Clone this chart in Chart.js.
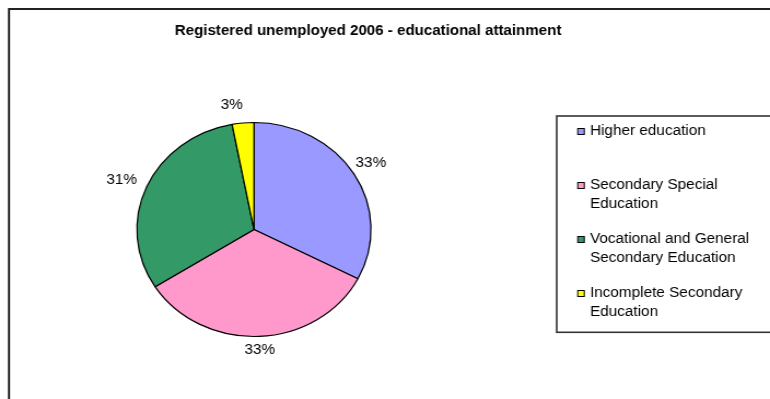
<!DOCTYPE html>
<html lang="en">
<head>
<meta charset="UTF-8">
<title>Registered unemployed 2006 - educational attainment</title>
<script src="https://cdn.jsdelivr.net/npm/chart.js"></script>
<style>
  html, body { margin: 0; padding: 0; background: #ffffff; overflow: hidden; }
  /* the sheet is drawn 704 wide and stretched to 770, like the exported chart */
  canvas { display: block; width: 770px !important; height: 399px !important; }
</style>
</head>
<body>
<canvas id="eduChart" width="704" height="399"></canvas>
<script>
  const chartTitle = 'Registered unemployed 2006 - educational attainment';
  const categories = [
    'Higher education',
    'Secondary Special Education',
    'Vocational and General Secondary Education',
    'Incomplete Secondary Education'
  ];
  const shares = [32.6, 33.4, 31.0, 3.0];
  const sliceColours = ['#9999FF', '#FF99CC', '#339966', '#FFFF00'];
  // small nudges for the percentage labels, [dx, dy]
  const labelNudge = [[-3, 0], [0, 0], [-3, 2], [-9, -4]];

  const FONT = "'Liberation Sans', Arial, sans-serif";

  function wrapWords(ctx, text, maxWidth) {
    const words = text.split(' ');
    const lines = [];
    let line = '';
    words.forEach(w => {
      const test = line ? line + ' ' + w : w;
      if (line && ctx.measureText(test).width > maxWidth) {
        lines.push(line);
        line = w;
      } else {
        line = test;
      }
    });
    if (line) lines.push(line);
    return lines;
  }

  const sheetDecor = {
    id: 'sheetDecor',
    beforeDraw(chart) {
      const ctx = chart.ctx;
      ctx.save();
      // outer chart frame (runs off the right and bottom edge)
      ctx.strokeStyle = '#1a1a1a';
      ctx.lineWidth = 1.9;
      ctx.strokeRect(8.2, 9, 800, 500);
      ctx.restore();
    },
    afterDraw(chart) {
      const ctx = chart.ctx;
      ctx.save();

      // title
      ctx.fillStyle = '#000';
      ctx.font = `bold 13.8px ${FONT}`;
      ctx.textAlign = 'center';
      ctx.textBaseline = 'middle';
      ctx.fillText(chartTitle, 336.5, 31);

      // percentage labels outside the slices
      const total = shares.reduce((a, b) => a + b, 0);
      const arcs = chart.getDatasetMeta(0).data;
      ctx.font = `14px ${FONT}`;
      arcs.forEach((arc, i) => {
        const text = Math.round(shares[i] / total * 100) + '%';
        const mid = (arc.startAngle + arc.endAngle) / 2;
        const dx = Math.cos(mid), dy = Math.sin(mid);
        const w = ctx.measureText(text).width, h = 14;
        const reach = Math.abs(dx) * w / 2 + Math.abs(dy) * h / 2 + 6;
        const x = arc.x + dx * (arc.outerRadius + reach) + labelNudge[i][0];
        const y = arc.y + dy * (arc.outerRadius + reach) + labelNudge[i][1];
        ctx.fillText(text, x, y);
      });

      // legend box
      ctx.strokeStyle = '#333';
      ctx.lineWidth = 1.6;
      ctx.strokeRect(509, 116, 260, 216.3);

      ctx.font = `14px ${FONT}`;
      ctx.textAlign = 'left';
      categories.forEach((name, i) => {
        const top = 131.5 + i * 54;
        ctx.fillStyle = sliceColours[i];
        ctx.fillRect(528.2, top - 3, 6, 6);
        ctx.strokeStyle = '#000';
        ctx.lineWidth = 1;
        ctx.strokeRect(528.2, top - 3, 6, 6);
        ctx.fillStyle = '#000';
        wrapWords(ctx, name, 160).forEach((line, j) => {
          ctx.fillText(line, 539.4, top + j * 18.5);
        });
      });
      ctx.restore();
    }
  };

  new Chart(document.getElementById('eduChart'), {
    type: 'pie',
    data: {
      labels: categories,
      datasets: [{
        data: shares,
        backgroundColor: sliceColours,
        borderColor: '#000',
        borderWidth: 1.2,
        hoverOffset: 0,
        radius: 107
      }]
    },
    options: {
      responsive: false,
      animation: false,
      events: [],
      layout: { padding: { left: 125.2, right: 364.8, top: 122.5, bottom: 62.5 } },
      plugins: {
        legend: { display: false },
        tooltip: { enabled: false },
        title: { display: false }
      }
    },
    plugins: [sheetDecor]
  });
</script>
</body>
</html>
